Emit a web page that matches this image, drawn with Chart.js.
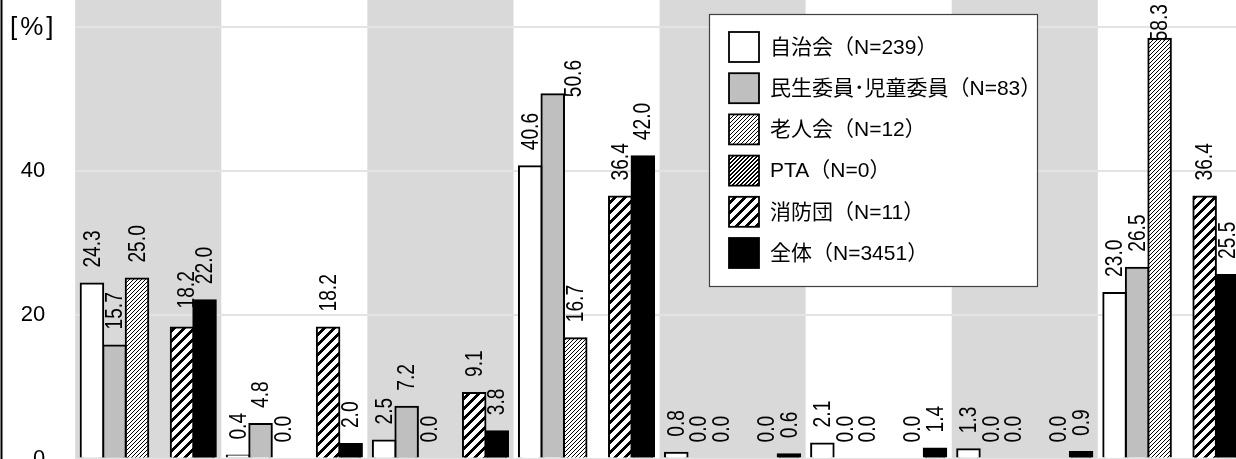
<!DOCTYPE html>
<html lang="ja">
<head>
<meta charset="utf-8">
<style>
  html, body { margin: 0; padding: 0; background: #fff; overflow: hidden; width: 1236px; height: 459px; }
  #chart { position: absolute; left: 0; top: 0; }
</style>
<script src="https://cdn.jsdelivr.net/npm/chart.js@4.4.1/dist/chart.umd.min.js"></script>
</head>
<body>
<canvas id="chart" width="1250" height="480"></canvas>
<script>
// category names are cut off in the picture
const categories = ['項目1', '項目2', '項目3', '項目4', '項目5', '項目6', '項目7', '項目8'];
const seriesNames = ['自治会（N=239）', '民生委員･児童委員（N=83）', '老人会（N=12）', 'PTA（N=0）', '消防団（N=11）', '全体（N=3451）'];

const jichikai = [24.3, 0.4, 2.5, 40.6, 0.8, 2.1, 1.3, 23.0];
const minsei   = [15.7, 4.8, 7.2, 50.6, 0.0, 0.0, 0.0, 26.5];
const roujin   = [25.0, 0.0, 0.0, 16.7, 0.0, 0.0, 0.0, 58.3];
const pta      = [null, null, null, null, null, null, null, null];
const shobo    = [18.2, 18.2, 9.1, 36.4, 0.0, 0.0, 0.0, 36.4];
const zentai   = [22.0, 2.0, 3.8, 42.0, 0.6, 1.4, 0.9, 25.5];

const yTicks = [0, 20, 40, 60];
const yMax = 63.7;

const canvas = document.getElementById('chart');
const ctx = canvas.getContext('2d');

// pixel hatch "/" like the office fill patterns
function hatch(period, thick) {
  const c = document.createElement('canvas');
  c.width = c.height = period;
  const g = c.getContext('2d');
  const img = g.createImageData(period, period);
  for (let y = 0; y < period; y++) {
    for (let x = 0; x < period; x++) {
      const v = ((x + y) % period) < thick ? 0 : 255;
      const i = (y * period + x) * 4;
      img.data[i] = img.data[i + 1] = img.data[i + 2] = v;
      img.data[i + 3] = 255;
    }
  }
  g.putImageData(img, 0, 0);
  return ctx.createPattern(c, 'repeat');
}

const fills = ['#ffffff', '#bfbfbf', hatch(4, 1), hatch(4, 2), hatch(10, 4), '#000000'];
const seriesData = [jichikai, minsei, roujin, pta, shobo, zentai];

// alternating grey bands behind each category
const bandPlugin = {
  id: 'bands',
  beforeDraw(chart) {
    const c = chart.ctx;
    const xs = chart.scales.x;
    const area = chart.chartArea;
    const w = xs.width / categories.length;
    c.save();
    c.fillStyle = '#d9d9d9';
    categories.forEach((cat, i) => {
      if (i % 2 === 0) {
        const cx = xs.getPixelForValue(i);
        c.fillRect(cx - w / 2, 0, w, area.bottom);
      }
    });
    c.restore();
  }
};

// rotated value labels over the bars (narrow digits, as in the original)
const labelShift = { '1-3': [21, 19], '4-0': [4, -3] };
const squeeze = 0.8;
const valuePlugin = {
  id: 'values',
  afterDatasetsDraw(chart) {
    const c = chart.ctx;
    c.save();
    c.font = '24px "Liberation Sans", Arial, sans-serif';
    c.fillStyle = '#000';
    c.textAlign = 'left';
    c.textBaseline = 'middle';
    chart.data.datasets.forEach((ds, di) => {
      const meta = chart.getDatasetMeta(di);
      meta.data.forEach((bar, i) => {
        const v = ds.data[i];
        if (v === null || v === undefined) return;
        const txt = v.toFixed(1);
        const tw = c.measureText(txt).width * squeeze;
        const sh = labelShift[di + '-' + i] || [0, 0];
        let start = bar.y - 16 + sh[1];
        if (start - tw < 4) start = 4 + tw;
        c.save();
        c.translate(bar.x + sh[0], start);
        c.rotate(-Math.PI / 2);
        c.scale(squeeze, 1);
        c.fillText(txt, 0, 1);
        c.restore();
      });
    });
    c.restore();
  }
};

// legend box, unit label and left frame line
const extrasPlugin = {
  id: 'extras',
  afterDraw(chart) {
    const c = chart.ctx;
    c.save();
    c.fillStyle = '#000';
    c.fillRect(0.5, 0, 2, 480);

    c.font = '26px "Liberation Sans", Arial, sans-serif';
    c.letterSpacing = '3px';
    c.textBaseline = 'alphabetic';
    c.textAlign = 'left';
    c.fillText('[%]', 10, 34.5);
    c.letterSpacing = '0px';

    const lx = 709.5, ly = 14.5, lw = 328, lh = 272;
    c.fillStyle = '#fff';
    c.fillRect(lx, ly, lw, lh);
    c.strokeStyle = '#404040';
    c.lineWidth = 1.2;
    c.strokeRect(lx, ly, lw, lh);

    c.font = '21px "Liberation Sans", "Noto Sans CJK JP", sans-serif';
    c.textBaseline = 'middle';
    seriesNames.forEach((name, i) => {
      const top = 32 + i * 41.2;
      c.fillStyle = fills[i];
      c.fillRect(729, top, 30, 30);
      c.strokeStyle = '#000';
      c.lineWidth = 1.8;
      c.strokeRect(729, top, 30, 30);
      c.fillStyle = '#000';
      c.fillText(name, 770, top + 16);
    });
    c.restore();
  }
};

new Chart(ctx, {
  type: 'bar',
  data: {
    labels: categories,
    datasets: seriesData.map((d, i) => ({
      label: seriesNames[i],
      data: d,
      backgroundColor: fills[i],
      borderColor: '#000',
      borderWidth: c => (c.raw ? 2 : 0),
      inflateAmount: c => (c.raw ? 1 : 0),
      categoryPercentage: 0.925,
      barPercentage: 1.0
    }))
  },
  options: {
    responsive: false,
    animation: false,
    devicePixelRatio: 1,
    layout: { padding: { left: 0, right: 6.1, top: 0, bottom: 21.5 } },
    plugins: {
      legend: { display: false },
      tooltip: { enabled: false }
    },
    scales: {
      x: { display: false },
      y: {
        min: 0,
        max: yMax,
        border: { display: false },
        grid: { color: '#e3e3e3', lineWidth: 2, drawTicks: false },
        afterBuildTicks: s => { s.ticks = yTicks.map(v => ({ value: v })); },
        afterFit: s => { s.width = 75.2; s.paddingTop = 0; s.paddingBottom = 0; },
        ticks: {
          padding: 30,
          color: '#000',
          font: { family: '"Liberation Sans", Arial, sans-serif', size: 22 },
          callback: v => (v === 60 ? '' : v)
        }
      }
    }
  },
  plugins: [bandPlugin, valuePlugin, extrasPlugin]
});
</script>
</body>
</html>
